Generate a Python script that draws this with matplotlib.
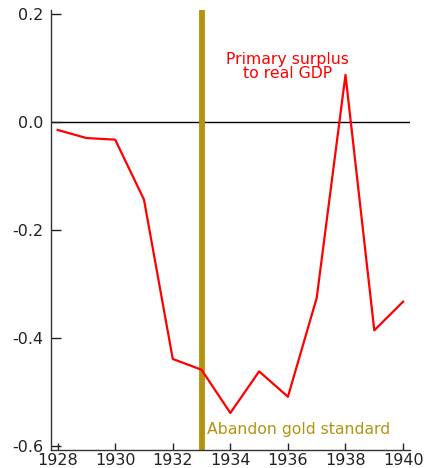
import matplotlib
matplotlib.use("Agg")
import matplotlib.pyplot as plt

years = [1928, 1929, 1930, 1931, 1932, 1933, 1934, 1935, 1936, 1937, 1938, 1939, 1940]
surplus = [-0.015, -0.030, -0.033, -0.144, -0.439, -0.459, -0.539, -0.462, -0.509,
           -0.326, 0.087, -0.386, -0.333]
gold_year = 1933
xticks = [1928, 1930, 1932, 1934, 1936, 1938, 1940]
yticks = [0.2, 0.0, -0.2, -0.4, -0.6]
ytick_labels = ["0.2", "0.0", "-0.2", "-0.4", "-0.6"]
series_label = ["Primary surplus", "to real GDP"]
event_label = "Abandon gold standard"

plt.rcParams['font.family'] = ['DejaVu Sans']

fig = plt.figure(figsize=(4.26, 4.68), dpi=100)
ax = fig.add_axes([0.1197, 0.0391, 0.8427, 0.9395])

ax.axhline(0, color='black', lw=1.0, zorder=1)
ax.axvline(gold_year, color='#B39412', lw=4.2, zorder=2)
ax.plot(years, surplus, color='#FF0000', lw=1.6, zorder=3)

ax.text(1936.0, 0.1069, series_label[0], color='#FF0000',
        fontsize=11.3, ha='center', va='baseline')
ax.text(1936.0, 0.0809, series_label[1], color='#FF0000',
        fontsize=11.3, ha='center', va='baseline')
ax.text(gold_year + 0.19, -0.578, event_label, color='#B39412',
        fontsize=11.3, ha='left', va='baseline')

ax.set_xlim(1927.77, 1940.24)
ax.set_ylim(-0.607, 0.207)
ax.set_xticks(xticks)
ax.set_xticklabels([str(t) for t in xticks])
ax.set_yticks(yticks)
ax.set_yticklabels(ytick_labels)

for side in ('top', 'right'):
    ax.spines[side].set_visible(False)
for side in ('left', 'bottom'):
    ax.spines[side].set_color('#333333')
    ax.spines[side].set_linewidth(1.0)

ax.tick_params(axis='y', direction='in', length=7, width=1, pad=5.5,
               labelsize=11.5, colors='#222222')
ax.tick_params(axis='x', direction='in', length=5, width=1, pad=2.5,
               labelsize=11.5, colors='#222222')

fig.savefig("out.png", dpi=100)
